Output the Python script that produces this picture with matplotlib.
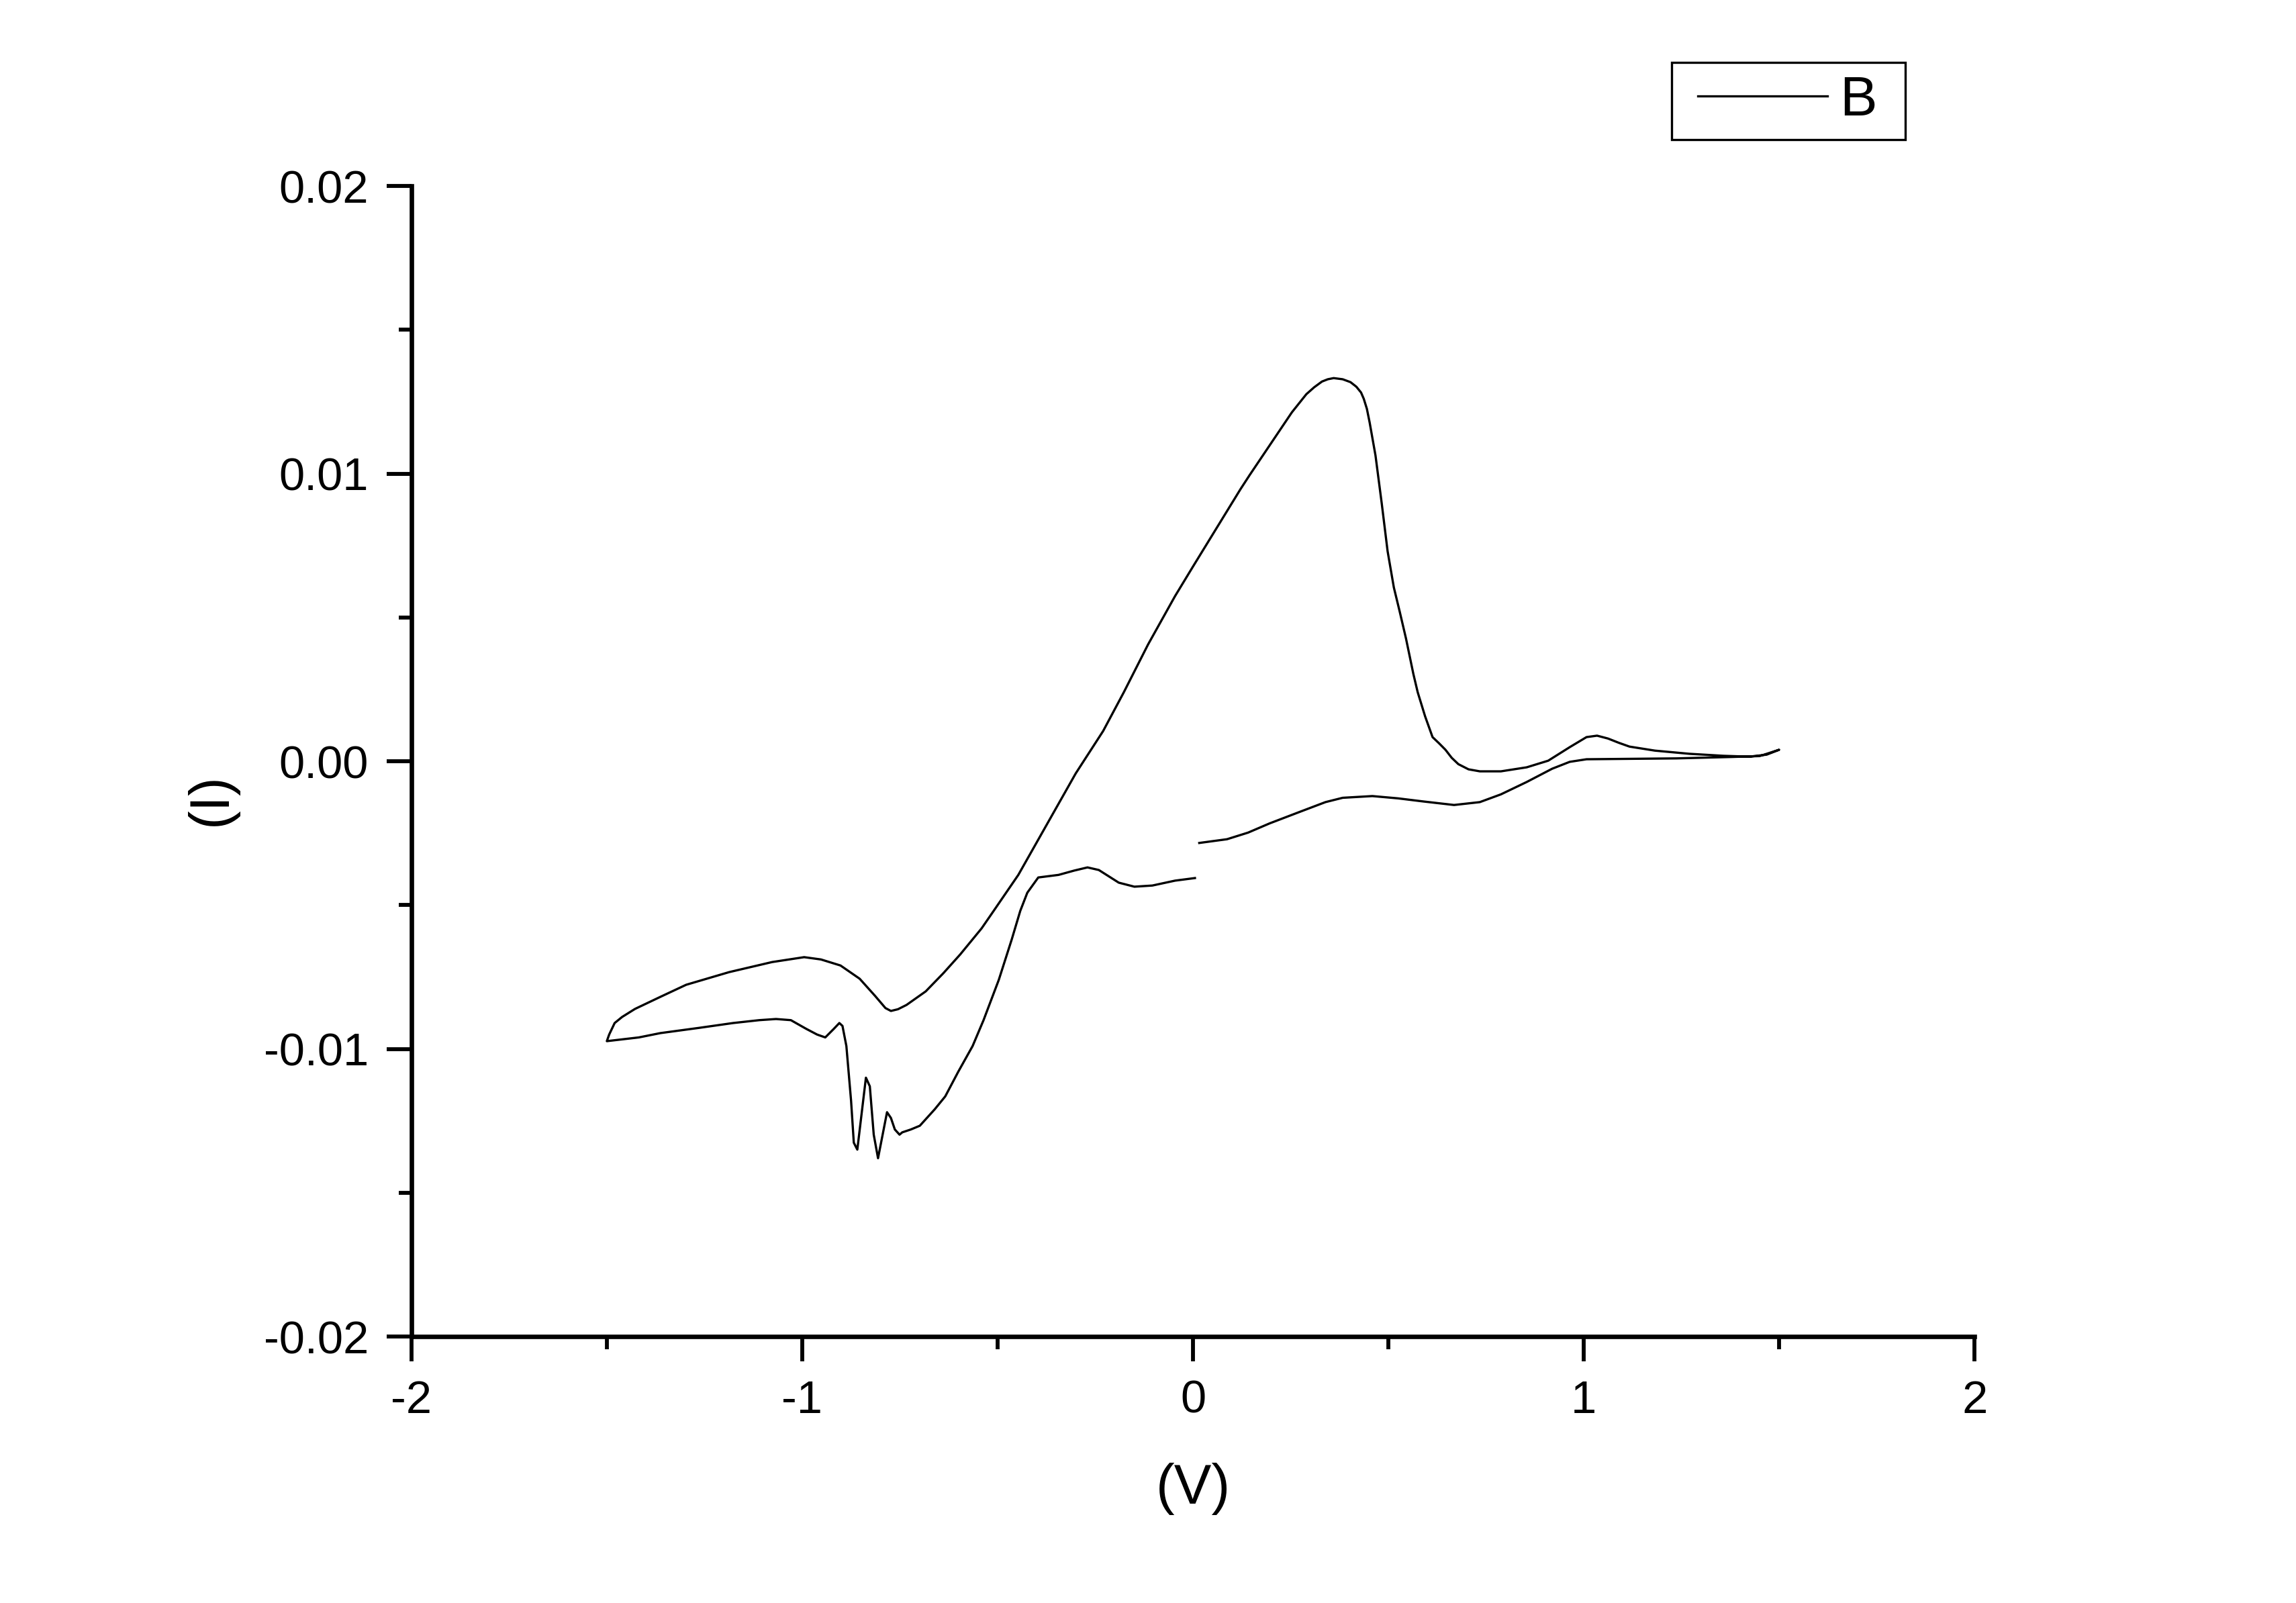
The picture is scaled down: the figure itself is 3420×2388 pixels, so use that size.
import matplotlib
matplotlib.use("Agg")
import matplotlib.pyplot as plt
import numpy as np
from matplotlib.ticker import FixedLocator, MultipleLocator, FormatStrFormatter
from matplotlib.legend_handler import HandlerLine2D

plt.rcParams['font.family'] = ['Liberation Sans', 'DejaVu Sans']
plt.rcParams['axes.unicode_minus'] = False

# ---- data ----
# 1) scan from 0 V down to -1.5 V (lower-left branch)
v_down = [0.005, -0.046, -0.104, -0.150, -0.190, -0.241, -0.270, -0.304, -0.344, -0.396,
          -0.424, -0.442, -0.464, -0.497, -0.536, -0.564, -0.601, -0.634, -0.661, -0.699,
          -0.722, -0.744, -0.751, -0.763, -0.773, -0.783, -0.806, -0.817, -0.827, -0.837,
          -0.859, -0.868, -0.875, -0.887, -0.897, -0.905, -0.919, -0.941, -0.962, -0.990,
          -1.029, -1.067, -1.110, -1.177, -1.265, -1.363, -1.418, -1.500]
i_down = [-0.00406, -0.00415, -0.00432, -0.00436, -0.00422, -0.00378, -0.00369, -0.00380, -0.00395, -0.00404,
          -0.00457, -0.00520, -0.00620, -0.00760, -0.00900, -0.00990, -0.01080, -0.01165, -0.01210, -0.01267,
          -0.01280, -0.01290, -0.01298, -0.01280, -0.01240, -0.01220, -0.01380, -0.01298, -0.01130, -0.01100,
          -0.01350, -0.01326, -0.01180, -0.00990, -0.00920, -0.00910, -0.00930, -0.00960, -0.00950, -0.00930,
          -0.00900, -0.00896, -0.00900, -0.00910, -0.00927, -0.00945, -0.00960, -0.00973]

# 2) scan from -1.5 V up to +1.5 V (upper branch)
v_up = [-1.494, -1.480, -1.461, -1.428, -1.363, -1.297, -1.187, -1.077, -0.995, -0.952,
        -0.902, -0.853, -0.814, -0.787, -0.773, -0.755, -0.733, -0.684, -0.639, -0.596,
        -0.541, -0.505, -0.447, -0.402, -0.356, -0.300, -0.230, -0.177, -0.115, -0.046,
        0.000, 0.076, 0.122, 0.145, 0.199, 0.253, 0.290, 0.310, 0.330, 0.345,
        0.360, 0.383, 0.403, 0.418, 0.430, 0.437, 0.445, 0.452, 0.467, 0.483,
        0.498, 0.514, 0.529, 0.545, 0.564, 0.575, 0.594, 0.613, 0.630, 0.646,
        0.662, 0.679, 0.705, 0.734, 0.788, 0.854, 0.909, 0.964, 1.007, 1.034,
        1.062, 1.090, 1.117, 1.182, 1.270, 1.357, 1.424, 1.468, 1.500]
i_up = [-0.00950, -0.00910, -0.00889, -0.00861, -0.00819, -0.00777, -0.00733, -0.00698, -0.00681, -0.00689,
        -0.00710, -0.00756, -0.00815, -0.00858, -0.00868, -0.00862, -0.00847, -0.00800, -0.00737, -0.00672,
        -0.00581, -0.00510, -0.00395, -0.00287, -0.00177, -0.00042, 0.00105, 0.00240, 0.00406, 0.00574,
        0.00677, 0.00845, 0.00947, 0.00995, 0.01104, 0.01213, 0.01276, 0.01300, 0.01320, 0.01328,
        0.01332, 0.01328, 0.01318, 0.01302, 0.01282, 0.01260, 0.01225, 0.01178, 0.01063, 0.00896,
        0.00730, 0.00604, 0.00520, 0.00427, 0.00303, 0.00240, 0.00156, 0.00084, 0.00062, 0.00040,
        0.00012, -0.00010, -0.00028, -0.00035, -0.00035, -0.00021, 0.00002, 0.00049, 0.00084, 0.00089,
        0.00079, 0.00064, 0.00051, 0.00037, 0.00026, 0.00019, 0.00016, 0.00023, 0.00040]

# 3) scan from +1.5 V back to 0 V (lower-right branch)
v_back = [1.450, 1.380, 1.237, 1.007, 0.964, 0.919, 0.854, 0.788, 0.734, 0.668,
          0.591, 0.525, 0.459, 0.383, 0.339, 0.273, 0.196, 0.141, 0.087, 0.016]
i_back = [0.00018, 0.00015, 0.00010, 0.00007, -0.00002, -0.00026, -0.00072, -0.00115, -0.00142, -0.00152,
          -0.00140, -0.00129, -0.00121, -0.00127, -0.00142, -0.00176, -0.00216, -0.00248, -0.00271, -0.00284]

series_label = "B"
x_label = "(V)"
y_label = "(I)"
x_ticks = [-2, -1, 0, 1, 2]
y_ticks = [-0.02, -0.01, 0.00, 0.01, 0.02]

V = np.concatenate([v_down, v_up, v_back])
I = np.concatenate([i_down, i_up, i_back])

# ---- figure ----
fig = plt.figure(figsize=(11.4, 7.96), dpi=300)
ax = fig.add_axes([0.1792, 0.1662, 0.8600 - 0.1792, 0.8840 - 0.1662])

line, = ax.plot(V, I, color='black', linewidth=0.8, label=series_label + " ",
                solid_joinstyle='round')

ax.set_xlim(-2, 2)
ax.set_ylim(-0.02, 0.02)

ax.xaxis.set_major_locator(FixedLocator(x_ticks))
ax.xaxis.set_minor_locator(MultipleLocator(0.5))
ax.yaxis.set_major_locator(FixedLocator(y_ticks))
ax.yaxis.set_minor_locator(MultipleLocator(0.005))
ax.xaxis.set_major_formatter(FormatStrFormatter('%d'))
ax.yaxis.set_major_formatter(FormatStrFormatter('%.2f'))

for s in ['top', 'right']:
    ax.spines[s].set_visible(False)
for s in ['left', 'bottom']:
    ax.spines[s].set_linewidth(1.6)

ax.tick_params(which='major', direction='out', length=8.8, width=1.4,
               labelsize=16.5, pad=6.5, color='black')
ax.tick_params(which='minor', direction='out', length=4.6, width=1.4, color='black')

ax.set_xlabel(x_label, fontsize=20, va='center')
ax.xaxis.set_label_coords(0.5, -0.1324)
ax.set_ylabel(y_label, fontsize=20, va='center')
ax.yaxis.set_label_coords(-0.128, 0.467)

leg = fig.legend(handles=[line], loc='upper left', bbox_to_anchor=(0.728, 0.961), fontsize=20,
                 frameon=True, fancybox=False, shadow=False, framealpha=1,
                 edgecolor='black', handlelength=2.57, handletextpad=0.22,
                 borderpad=0.22, borderaxespad=0.0,
                 handler_map={line: HandlerLine2D(xpad=0.25)})
leg.get_frame().set_linewidth(0.8)
for l in leg.get_lines():
    l.set_linewidth(0.8)

fig.savefig("out.png", dpi=300, facecolor='white')
